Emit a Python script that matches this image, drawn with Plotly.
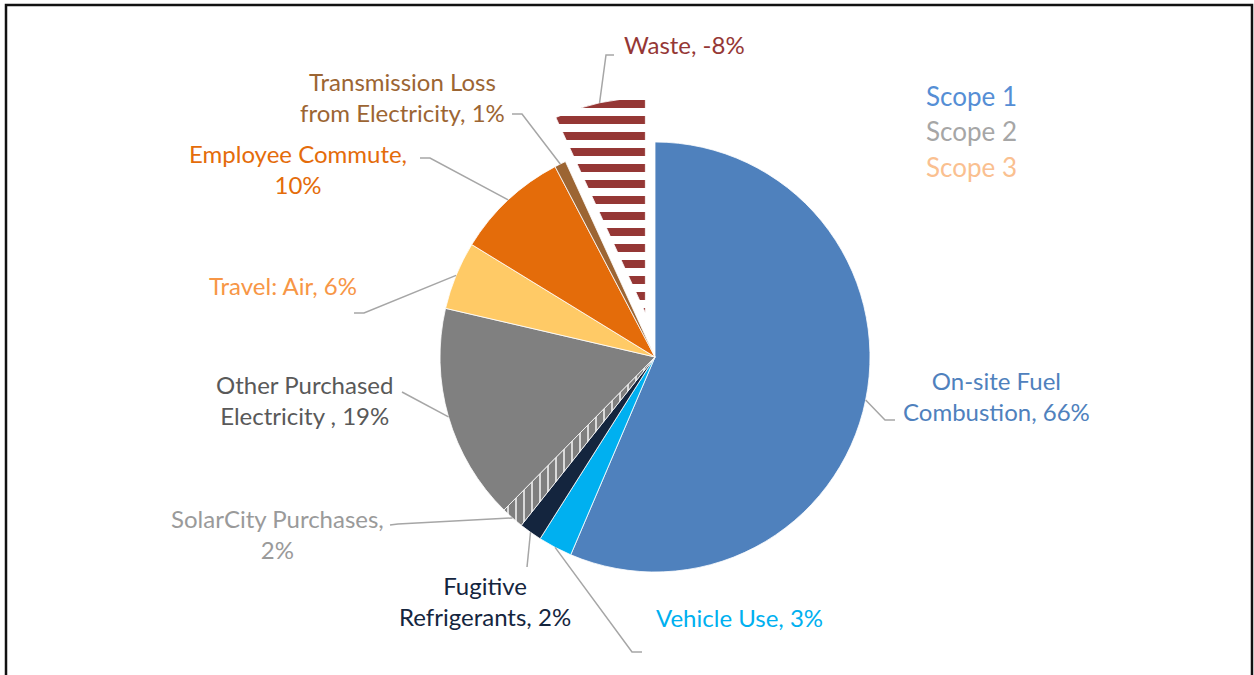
import math
import plotly.graph_objects as go

# ---------------- data ----------------
labels = ["On-site Fuel Combustion", "Vehicle Use", "Fugitive Refrigerants",
          "SolarCity Purchases", "Other Purchased Electricity", "Travel: Air",
          "Employee Commute", "Transmission Loss from Electricity", "Waste"]
percents = [66, 3, 2, 2, 19, 6, 10, 1, -8]
label_texts = ["On-site Fuel<br>Combustion, 66%", "Vehicle Use, 3%",
               "Fugitive<br>Refrigerants, 2%", "SolarCity Purchases,<br>2%",
               "Other Purchased<br>Electricity , 19%", "Travel: Air, 6%",
               "Employee Commute,<br>10%", "Transmission Loss<br>from Electricity, 1%",
               "Waste, -8%"]
slice_colors = ["#4F81BD", "#00B0F0", "#14253E", "#7F7F7F", "#808080",
                "#FFCA66", "#E46C0A", "#9C6533", "#FFFFFF"]
label_colors = ["#4F81BD", "#00B0F0", "#14253E", "#9A9A9A", "#595959",
                "#F79646", "#E46C0A", "#9C6533", "#953735"]
pulls = [0, 0, 0, 0, 0, 0, 0, 0, 0.21]
scope_names = ["Scope 1", "Scope 2", "Scope 3"]
scope_colors = ["#558ED5", "#A6A6A6", "#FAC090"]

# ---------------- layout helpers ----------------
W, H = 1254, 675
FONT = "Lato"
def X(p): return p / W
def Y(p): return 1 - p / H

CX, CY, R = 655, 357, 215          # pie centre / radius in pixels
maxpull = max(pulls)
half = R * (1 + maxpull)

values = [abs(v) for v in percents]
total = sum(values)

fig = go.Figure()
fig.add_trace(go.Pie(
    labels=labels, values=values, sort=False, direction="clockwise", rotation=0,
    pull=pulls, textinfo="none", hoverinfo="skip", showlegend=False,
    marker=dict(
        colors=slice_colors,
        line=dict(color="white", width=0.8),
        pattern=dict(
            shape=["", "", "", "|", "", "", "", "", "-"],
            fgcolor=["#4F81BD", "#00B0F0", "#14253E", "#D9D9D9", "#808080",
                     "#FFCA66", "#E46C0A", "#9C6533", "#953735"],
            bgcolor=slice_colors,
            size=[8, 8, 8, 8, 8, 8, 8, 8, 16],
            solidity=[0.3, 0.3, 0.3, 0.25, 0.3, 0.3, 0.3, 0.3, 0.5],
        ),
    ),
    domain=dict(x=[X(CX - half), X(CX + half)], y=[Y(CY + half), Y(CY - half)]),
))

# label centres and leader elbows (pixels)
label_pos = [(996, 396), (739, 617), (485, 601), (277, 534), (304, 400),
             (283, 285), (298, 169), (403, 97), (684, 45)]
elbows = [[(885, 420), (895, 420)],
          [(632, 652), (642, 652)],
          [(527, 567)],
          [(398, 524), (390, 525)],
          [(402, 392)],
          [(364, 313), (354, 313)],
          [(430, 158), (420, 158)],
          [(522, 114), (512, 114)],
          [(606, 55), (614, 55)]]

shapes = []
cum = 0
for i, v in enumerate(values):
    mid = (cum + v / 2) / total * 2 * math.pi
    cum += v
    cx = CX + pulls[i] * R * math.sin(mid)
    cy = CY - pulls[i] * R * math.cos(mid)
    sx = cx + R * math.sin(mid)
    sy = cy - R * math.cos(mid)
    pts = [(sx, sy)] + elbows[i]
    path = "M " + " L ".join(f"{X(a):.5f},{Y(b):.5f}" for a, b in pts)
    shapes.append(dict(type="path", xref="paper", yref="paper", path=path,
                       line=dict(color="#A6A6A6", width=1.5)))

# frame
shapes.append(dict(type="rect", xref="paper", yref="paper",
                   x0=X(6), x1=X(1252), y0=-0.1, y1=Y(5),
                   line=dict(color="#111111", width=2.5)))

annotations = []
for txt, (lx, ly), col in zip(label_texts, label_pos, label_colors):
    annotations.append(dict(x=X(lx), y=Y(ly), xref="paper", yref="paper",
                            text=txt, showarrow=False, xanchor="center",
                            yanchor="middle", align="center",
                            font=dict(family=FONT, size=24, color=col)))
for j, (nm, col) in enumerate(zip(scope_names, scope_colors)):
    annotations.append(dict(x=X(971), y=Y(96 + 35.5 * j), xref="paper", yref="paper",
                            text=nm, showarrow=False, xanchor="center",
                            yanchor="middle", font=dict(family=FONT, size=26, color=col)))

fig.update_layout(width=W, height=H, margin=dict(l=0, r=0, t=0, b=0),
                  paper_bgcolor="white", plot_bgcolor="white",
                  shapes=shapes, annotations=annotations)
fig.write_html("out.html")
